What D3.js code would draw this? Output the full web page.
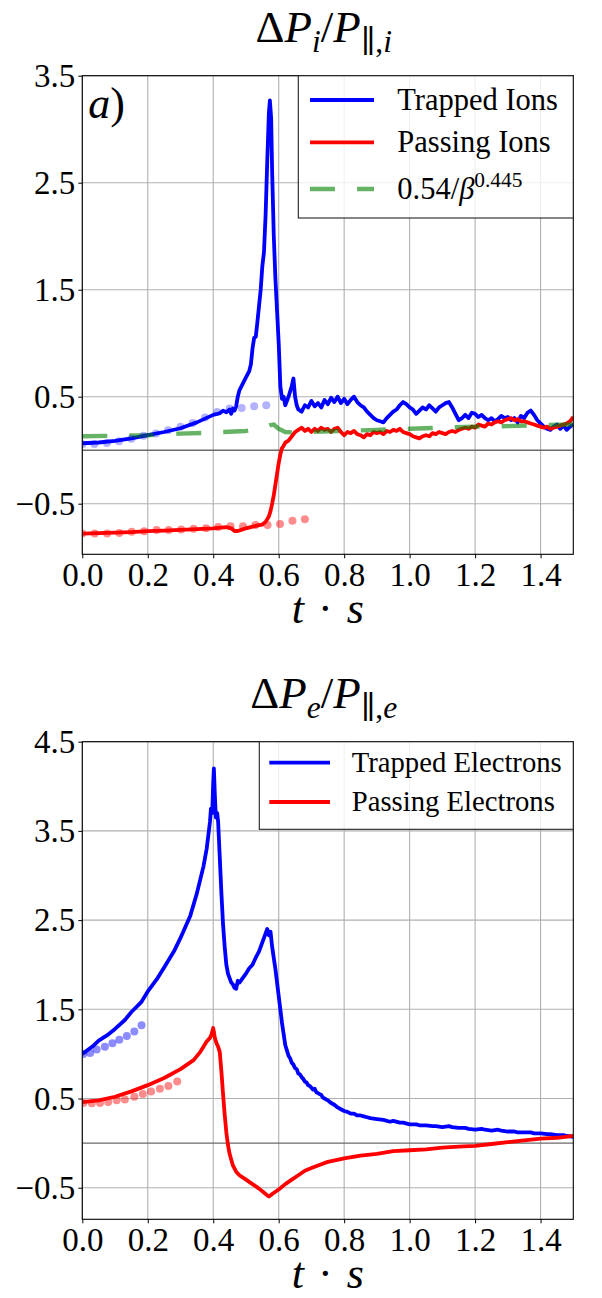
<!DOCTYPE html>
<html>
<head>
<meta charset="utf-8">
<script src="https://cdn.jsdelivr.net/npm/d3@7"></script>
<style>
  body { margin: 0; background: #fff; }
  svg { display: block; }
  text { font-family: "Liberation Serif", "DejaVu Serif", serif; fill: #000; }
</style>
</head>
<body>
<div id="chart"></div>
<script>
// ticks
var tTicks = [0, 0.2, 0.4, 0.6, 0.8, 1.0, 1.2, 1.4];
var ionTicks = [-0.5, 0.5, 1.5, 2.5, 3.5];
var elecTicks = [-0.5, 0.5, 1.5, 2.5, 3.5, 4.5];

// ions panel, [t, value]
var trappedIons = [[0,0.065],[0.05,0.072],[0.1,0.088],[0.15,0.11],[0.2,0.14],[0.25,0.17],[0.3,0.205],[0.35,0.26],[0.4,0.33],[0.42,0.345],[0.43,0.37],[0.44,0.355],[0.45,0.38],[0.455,0.34],[0.46,0.39],[0.465,0.37],[0.47,0.41],[0.475,0.5],[0.48,0.56],[0.49,0.62],[0.5,0.68],[0.51,0.74],[0.515,0.8],[0.52,0.95],[0.525,1.05],[0.53,1.06],[0.535,1.2],[0.54,1.35],[0.545,1.5],[0.55,1.72],[0.555,1.85],[0.56,2.2],[0.565,2.7],[0.57,3.15],[0.573,3.27],[0.577,3.1],[0.58,2.6],[0.585,2.0],[0.59,1.6],[0.595,1.3],[0.6,1.0],[0.605,0.6],[0.61,0.48],[0.615,0.5],[0.62,0.42],[0.625,0.46],[0.63,0.5],[0.64,0.6],[0.645,0.67],[0.65,0.5],[0.655,0.42],[0.66,0.38],[0.67,0.36],[0.68,0.42],[0.69,0.4],[0.7,0.46],[0.71,0.41],[0.72,0.44],[0.73,0.4],[0.74,0.47],[0.75,0.43],[0.76,0.49],[0.77,0.45],[0.78,0.5],[0.79,0.44],[0.8,0.48],[0.81,0.43],[0.82,0.47],[0.83,0.5],[0.84,0.45],[0.85,0.42],[0.86,0.4],[0.87,0.36],[0.88,0.33],[0.89,0.3],[0.9,0.28],[0.91,0.27],[0.92,0.26],[0.93,0.3],[0.94,0.33],[0.95,0.36],[0.96,0.38],[0.97,0.42],[0.98,0.45],[0.99,0.43],[1.0,0.4],[1.01,0.38],[1.02,0.34],[1.03,0.37],[1.04,0.4],[1.05,0.38],[1.06,0.42],[1.07,0.39],[1.08,0.36],[1.09,0.4],[1.1,0.42],[1.11,0.44],[1.12,0.45],[1.13,0.4],[1.14,0.34],[1.15,0.28],[1.16,0.3],[1.17,0.33],[1.18,0.3],[1.19,0.35],[1.2,0.34],[1.21,0.31],[1.22,0.33],[1.23,0.3],[1.24,0.28],[1.25,0.3],[1.26,0.27],[1.27,0.29],[1.28,0.32],[1.29,0.3],[1.3,0.31],[1.31,0.28],[1.32,0.3],[1.33,0.26],[1.34,0.32],[1.35,0.3],[1.36,0.35],[1.37,0.37],[1.38,0.33],[1.39,0.28],[1.4,0.25],[1.41,0.22],[1.42,0.2],[1.43,0.19],[1.44,0.22],[1.45,0.24],[1.46,0.2],[1.47,0.23],[1.48,0.19],[1.49,0.22],[1.5,0.24]];

var passingIons = [[0,-0.78],[0.05,-0.775],[0.1,-0.77],[0.15,-0.765],[0.2,-0.757],[0.25,-0.752],[0.3,-0.745],[0.35,-0.738],[0.4,-0.73],[0.44,-0.72],[0.455,-0.73],[0.465,-0.755],[0.475,-0.755],[0.49,-0.74],[0.5,-0.73],[0.52,-0.715],[0.54,-0.7],[0.55,-0.695],[0.56,-0.67],[0.57,-0.62],[0.575,-0.57],[0.58,-0.5],[0.585,-0.42],[0.59,-0.32],[0.595,-0.22],[0.6,-0.12],[0.605,-0.04],[0.61,0.02],[0.615,0.04],[0.62,0.07],[0.625,0.08],[0.63,0.09],[0.64,0.13],[0.65,0.17],[0.66,0.19],[0.67,0.21],[0.68,0.18],[0.69,0.2],[0.7,0.17],[0.71,0.2],[0.72,0.18],[0.73,0.21],[0.74,0.19],[0.75,0.2],[0.76,0.17],[0.77,0.2],[0.78,0.21],[0.79,0.17],[0.8,0.14],[0.81,0.17],[0.82,0.16],[0.83,0.18],[0.84,0.15],[0.85,0.14],[0.86,0.12],[0.87,0.15],[0.88,0.14],[0.89,0.17],[0.9,0.16],[0.91,0.17],[0.92,0.15],[0.93,0.18],[0.94,0.17],[0.95,0.19],[0.96,0.18],[0.97,0.2],[0.98,0.17],[0.99,0.16],[1.0,0.15],[1.01,0.13],[1.02,0.12],[1.03,0.11],[1.04,0.13],[1.05,0.14],[1.06,0.13],[1.07,0.16],[1.08,0.15],[1.09,0.17],[1.1,0.16],[1.11,0.15],[1.12,0.17],[1.13,0.18],[1.14,0.17],[1.15,0.19],[1.16,0.2],[1.17,0.21],[1.18,0.2],[1.19,0.22],[1.2,0.21],[1.21,0.24],[1.22,0.23],[1.23,0.22],[1.24,0.25],[1.25,0.24],[1.26,0.26],[1.27,0.27],[1.28,0.26],[1.29,0.28],[1.3,0.29],[1.31,0.3],[1.32,0.28],[1.33,0.29],[1.34,0.27],[1.35,0.27],[1.36,0.26],[1.37,0.25],[1.38,0.24],[1.39,0.23],[1.4,0.22],[1.41,0.21],[1.42,0.22],[1.43,0.2],[1.44,0.21],[1.45,0.22],[1.46,0.23],[1.47,0.24],[1.48,0.25],[1.49,0.27],[1.5,0.31]];

var ionFit = [[0,0.13],[0.1,0.135],[0.2,0.14],[0.3,0.155],[0.4,0.165],[0.5,0.18],[0.55,0.2],[0.575,0.235],[0.585,0.24],[0.6,0.2],[0.62,0.17],[0.65,0.165],[0.7,0.17],[0.8,0.18],[0.9,0.19],[1.0,0.2],[1.1,0.21],[1.2,0.22],[1.3,0.225],[1.4,0.235],[1.5,0.24]];

var trappedIonDots = [[0,0.056],[0.037,0.058],[0.075,0.068],[0.112,0.084],[0.15,0.108],[0.187,0.135],[0.225,0.156],[0.262,0.187],[0.3,0.218],[0.337,0.255],[0.375,0.305],[0.412,0.358],[0.45,0.39],[0.487,0.395],[0.525,0.41],[0.562,0.42]];
var passingIonDots = [[0,-0.779],[0.038,-0.779],[0.076,-0.779],[0.113,-0.773],[0.151,-0.763],[0.189,-0.757],[0.227,-0.746],[0.264,-0.746],[0.302,-0.741],[0.34,-0.735],[0.378,-0.729],[0.415,-0.717],[0.453,-0.71],[0.491,-0.71],[0.529,-0.7],[0.566,-0.7],[0.604,-0.69],[0.642,-0.66],[0.68,-0.645]];

// electrons panel
var trappedElectrons = [[0,1.0],[0.03,1.08],[0.05,1.15],[0.08,1.22],[0.1,1.28],[0.13,1.38],[0.15,1.47],[0.18,1.58],[0.2,1.7],[0.23,1.85],[0.25,1.97],[0.28,2.15],[0.3,2.3],[0.33,2.55],[0.35,2.8],[0.37,3.1],[0.38,3.3],[0.39,3.6],[0.393,3.75],[0.397,3.7],[0.4,4.05],[0.402,4.2],[0.405,3.9],[0.408,3.65],[0.412,3.7],[0.415,3.6],[0.42,3.2],[0.425,2.8],[0.43,2.45],[0.435,2.2],[0.44,2.0],[0.445,1.9],[0.45,1.85],[0.455,1.8],[0.46,1.78],[0.465,1.74],[0.47,1.73],[0.475,1.82],[0.48,1.8],[0.49,1.85],[0.5,1.9],[0.51,1.96],[0.52,2.0],[0.53,2.08],[0.54,2.15],[0.55,2.25],[0.56,2.35],[0.565,2.4],[0.57,2.33],[0.575,2.37],[0.58,2.2],[0.59,1.95],[0.6,1.65],[0.61,1.35],[0.62,1.1],[0.625,1.04],[0.63,0.98],[0.635,0.95],[0.64,0.9],[0.645,0.88],[0.65,0.84],[0.655,0.83],[0.66,0.78],[0.665,0.77],[0.67,0.74],[0.675,0.72],[0.68,0.69],[0.685,0.68],[0.69,0.65],[0.695,0.64],[0.7,0.62],[0.705,0.6],[0.71,0.61],[0.715,0.57],[0.72,0.56],[0.725,0.55],[0.73,0.54],[0.735,0.51],[0.74,0.5],[0.75,0.48],[0.76,0.45],[0.77,0.43],[0.78,0.4],[0.79,0.38],[0.8,0.36],[0.81,0.35],[0.82,0.33],[0.83,0.33],[0.84,0.31],[0.85,0.31],[0.86,0.3],[0.87,0.29],[0.88,0.28],[0.9,0.27],[0.92,0.26],[0.94,0.24],[0.95,0.25],[0.97,0.23],[0.98,0.23],[1.0,0.21],[1.02,0.21],[1.03,0.2],[1.05,0.2],[1.07,0.19],[1.08,0.19],[1.1,0.18],[1.12,0.19],[1.13,0.18],[1.15,0.17],[1.17,0.17],[1.18,0.16],[1.2,0.15],[1.22,0.16],[1.23,0.15],[1.25,0.14],[1.27,0.15],[1.28,0.14],[1.3,0.13],[1.32,0.13],[1.33,0.12],[1.35,0.12],[1.37,0.12],[1.38,0.11],[1.4,0.11],[1.42,0.1],[1.43,0.1],[1.45,0.09],[1.47,0.09],[1.48,0.08],[1.5,0.07]];

var passingElectrons = [[0,0.46],[0.05,0.48],[0.1,0.52],[0.15,0.58],[0.2,0.65],[0.25,0.73],[0.3,0.83],[0.34,0.93],[0.36,1.02],[0.38,1.14],[0.39,1.18],[0.395,1.22],[0.4,1.29],[0.405,1.18],[0.41,1.12],[0.415,1.08],[0.42,1.02],[0.425,0.8],[0.43,0.55],[0.435,0.32],[0.44,0.12],[0.445,-0.02],[0.45,-0.12],[0.46,-0.25],[0.47,-0.32],[0.48,-0.36],[0.5,-0.41],[0.52,-0.46],[0.54,-0.51],[0.56,-0.57],[0.57,-0.6],[0.58,-0.57],[0.6,-0.52],[0.62,-0.46],[0.64,-0.41],[0.66,-0.36],[0.68,-0.31],[0.7,-0.28],[0.72,-0.25],[0.75,-0.21],[0.8,-0.17],[0.85,-0.14],[0.9,-0.12],[0.95,-0.09],[1.0,-0.08],[1.05,-0.07],[1.1,-0.05],[1.15,-0.04],[1.2,-0.03],[1.25,-0.01],[1.3,0.01],[1.35,0.03],[1.4,0.05],[1.45,0.06],[1.5,0.08]];

var trappedElectronDots = [[0.003,1.0],[0.024,1.01],[0.044,1.05],[0.069,1.08],[0.092,1.12],[0.113,1.16],[0.136,1.2],[0.159,1.25],[0.181,1.32]];
var passingElectronDots = [[0.003,0.45],[0.029,0.446],[0.054,0.45],[0.079,0.46],[0.105,0.48],[0.13,0.49],[0.159,0.52],[0.185,0.55],[0.21,0.58],[0.237,0.61],[0.263,0.64],[0.29,0.69]];

var W = 602, H = 1298;
var svg = d3.select("#chart").append("svg").attr("width", W).attr("height", H);

var x = d3.scaleLinear().domain([0, 1.5]).range([82.3, 573.3]);

// simple latex-ish text: parts are {t, it, sub, sup}
function richText(sel, parts, size) {
  var shift = 0;
  parts.forEach(function(p) {
    var target = p.sub ? 0.22 * size : (p.sup ? -0.4 * size : 0);
    var small = p.sub || p.sup;
    sel.append("tspan")
      .attr("dy", target - shift)
      .attr("dx", p.dx || 0)
      .style("font-style", p.it ? "italic" : "normal")
      .style("font-size", (small ? size * 0.7 : size) + "px")
      .text(p.t);
    shift = target;
  });
}

function drawPanel(cfg) {
  var y = d3.scaleLinear().domain(cfg.ydomain).range([cfg.bottom, cfg.top]);
  var g = svg.append("g");
  var clipId = "clip" + cfg.id;

  g.append("clipPath").attr("id", clipId)
    .append("rect")
    .attr("x", x(0)).attr("y", cfg.top)
    .attr("width", x(1.5) - x(0)).attr("height", cfg.bottom - cfg.top);

  // grid
  g.selectAll(".vgrid").data(tTicks).enter().append("line")
    .attr("x1", function(d) { return x(d); }).attr("x2", function(d) { return x(d); })
    .attr("y1", cfg.top).attr("y2", cfg.bottom)
    .attr("stroke", "#b0b0b0").attr("stroke-width", 1.1);
  g.selectAll(".hgrid").data(cfg.yticks).enter().append("line")
    .attr("x1", x(0)).attr("x2", x(1.5))
    .attr("y1", function(d) { return y(d); }).attr("y2", function(d) { return y(d); })
    .attr("stroke", "#b0b0b0").attr("stroke-width", 1.1);

  // zero line
  g.append("line")
    .attr("x1", x(0)).attr("x2", x(1.5))
    .attr("y1", y(0)).attr("y2", y(0))
    .attr("stroke", "#6a6a6a").attr("stroke-width", 1.4);

  var line = d3.line()
    .x(function(d) { return x(d[0]); })
    .y(function(d) { return y(d[1]); });

  var plot = g.append("g").attr("clip-path", "url(#" + clipId + ")");

  cfg.series.forEach(function(s) {
    plot.append("path")
      .datum(s.data)
      .attr("d", line)
      .attr("fill", "none")
      .attr("stroke", s.color)
      .attr("stroke-width", s.width)
      .attr("stroke-opacity", s.opacity || 1)
      .attr("stroke-dasharray", s.dash || null)
      .attr("stroke-linejoin", "round");
  });

  cfg.dots.forEach(function(s) {
    plot.selectAll(null).data(s.data).enter().append("circle")
      .attr("cx", function(d) { return x(d[0]); })
      .attr("cy", function(d) { return y(d[1]); })
      .attr("r", 4)
      .attr("fill", s.color)
      .attr("fill-opacity", s.opacity);
  });

  // frame
  g.append("rect")
    .attr("x", x(0)).attr("y", cfg.top)
    .attr("width", x(1.5) - x(0)).attr("height", cfg.bottom - cfg.top)
    .attr("fill", "none").attr("stroke", "#000").attr("stroke-width", 1.1);

  // axes
  var xa = g.append("g")
    .attr("transform", "translate(0," + cfg.bottom + ")")
    .call(d3.axisBottom(x).tickValues(tTicks).tickSize(4).tickFormat(d3.format(".1f")));
  xa.select(".domain").remove();
  xa.selectAll("text").attr("y", 32).attr("dy", null)
    .style("font-size", "33px").style("font-family", "Liberation Serif");

  var ya = g.append("g")
    .attr("transform", "translate(" + x(0) + ",0)")
    .call(d3.axisLeft(y).tickValues(cfg.yticks).tickSize(4).tickFormat(d3.format(".1f")));
  ya.select(".domain").remove();
  ya.selectAll("text").attr("x", -7).attr("dy", "0.33em")
    .style("font-size", "33px").style("font-family", "Liberation Serif");

  // title
  richText(g.append("text")
    .attr("x", (x(0) + x(1.5)) / 2 - 4).attr("y", cfg.top - 34)
    .attr("text-anchor", "middle"), cfg.title, 45);

  // x label
  richText(g.append("text")
    .attr("x", (x(0) + x(1.5)) / 2).attr("y", cfg.bottom + 69)
    .attr("text-anchor", "middle"),
    [{t: "t", it: true}, {t: "·", dx: 14}, {t: "s", it: true, dx: 14}], 44);

  // legend
  var L = cfg.legend;
  g.append("rect")
    .attr("x", L.x).attr("y", cfg.top)
    .attr("width", x(1.5) - L.x).attr("height", L.h)
    .attr("fill", "#fff").attr("fill-opacity", 0.8)
    .attr("stroke", "#222").attr("stroke-width", 1.1);
  L.items.forEach(function(it) {
    g.append("line")
      .attr("x1", L.lx1).attr("x2", L.lx2)
      .attr("y1", it.y).attr("y2", it.y)
      .attr("stroke", it.color).attr("stroke-width", it.width)
      .attr("stroke-opacity", it.opacity || 1)
      .attr("stroke-dasharray", it.dash || null);
    richText(g.append("text").attr("x", L.tx).attr("y", it.y + L.size * 0.33),
      it.label, L.size);
  });

  if (cfg.tag) {
    richText(g.append("text").attr("x", x(0) + 6).attr("y", cfg.top + 42),
      [{t: "a", it: true}, {t: ")"}], 44);
  }
}

drawPanel({
  id: "ions",
  top: 75.7, bottom: 554.3,
  ydomain: [-0.973, 3.5],
  yticks: ionTicks,
  title: [{t: "Δ"}, {t: "P", it: true}, {t: "i", it: true, sub: true}, {t: "/"}, {t: "P", it: true},
          {t: "∥,", sub: true}, {t: "i", it: true, sub: true}],
  series: [
    {data: trappedIons, color: "#0000ff", width: 3.8},
    {data: passingIons, color: "#ff0000", width: 3.8},
    {data: ionFit, color: "#008000", width: 4.4, opacity: 0.6, dash: "25,22"}
  ],
  dots: [
    {data: trappedIonDots, color: "#0000ff", opacity: 0.3},
    {data: passingIonDots, color: "#ff0000", opacity: 0.45}
  ],
  tag: true,
  legend: {
    x: 298.3, h: 142.3, lx1: 310, lx2: 374, tx: 397.3, size: 30.5,
    items: [
      {y: 100, color: "#0000ff", width: 3.8, label: [{t: "Trapped Ions"}]},
      {y: 142.3, color: "#ff0000", width: 3.8, label: [{t: "Passing Ions"}]},
      {y: 189, color: "#008000", width: 4.4, opacity: 0.6, dash: "25,22",
        label: [{t: "0.54/"}, {t: "β", it: true}, {t: "0.445", sup: true}]}
    ]
  }
});

drawPanel({
  id: "elec",
  top: 741.7, bottom: 1219.3,
  ydomain: [-0.854, 4.5],
  yticks: elecTicks,
  title: [{t: "Δ"}, {t: "P", it: true}, {t: "e", it: true, sub: true}, {t: "/"}, {t: "P", it: true},
          {t: "∥,", sub: true}, {t: "e", it: true, sub: true}],
  series: [
    {data: trappedElectrons, color: "#0000ff", width: 3.8},
    {data: passingElectrons, color: "#ff0000", width: 3.8}
  ],
  dots: [
    {data: trappedElectronDots, color: "#0000ff", opacity: 0.45},
    {data: passingElectronDots, color: "#ff0000", opacity: 0.45}
  ],
  tag: false,
  legend: {
    x: 259.3, h: 87.6, lx1: 269.3, lx2: 330, tx: 351.7, size: 28.7,
    items: [
      {y: 762.7, color: "#0000ff", width: 3.8, label: [{t: "Trapped Electrons"}]},
      {y: 802, color: "#ff0000", width: 3.8, label: [{t: "Passing Electrons"}]}
    ]
  }
});
</script>
</body>
</html>
